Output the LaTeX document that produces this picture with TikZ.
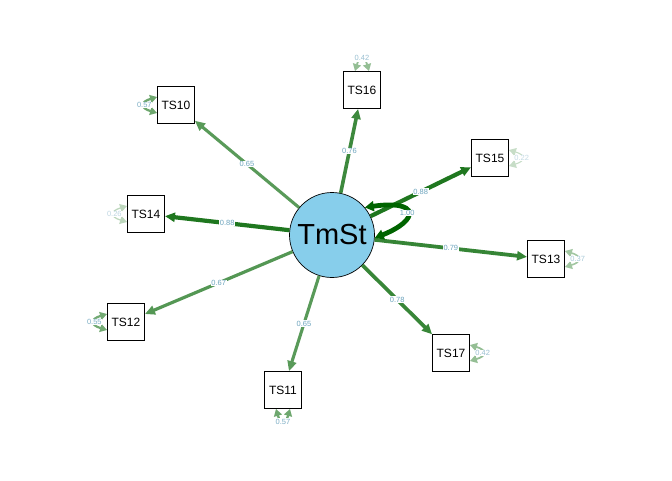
\documentclass[tikz,border=0pt]{standalone}
\usepackage{fontspec}
\setmainfont{Liberation Sans}
\usetikzlibrary{arrows.meta,calc}
\definecolor{dg}{RGB}{0,100,0}
\definecolor{sky}{RGB}{135,206,235}
\definecolor{lblc}{RGB}{110,165,190}
\begin{document}
\begin{tikzpicture}[x=1pt,y=-1pt,
  box/.style={draw=black,line width=0.9pt,minimum size=37pt,inner sep=0pt,fill=white,font=\fontsize{12}{12}\selectfont},
  lat/.style={circle,draw=black,line width=0.7pt,fill=sky,minimum size=85pt,inner sep=0pt,font=\fontsize{29}{29}\selectfont},
  ld/.style 2 args={line width=#1,draw=dg!#2!white,-{Triangle[length=10pt,width=9pt]}},
  res/.style 2 args={line width=#1,draw=dg!#2!white,{Triangle[length=7pt,width=8pt]}-{Triangle[length=7pt,width=8pt]}},
  lbl/.style={fill=white,inner sep=0.6pt,font=\fontsize{7.5}{7.5}\selectfont,text=lblc},
  rlbl/.style={lbl,text=lblc!#1!white}
]
\useasboundingbox (0,0) rectangle (672,480);
% nodes
\node[lat] (TmSt) at (332,235) {TmSt};
\node[box] (TS10) at (176,105) {TS10};
\node[box] (TS14) at (146,214) {TS14};
\node[box] (TS16) at (362,90) {TS16};
\node[box] (TS15) at (490,158) {TS15};
\node[box] (TS13) at (546,259) {TS13};
\node[box] (TS17) at (451,353) {TS17};
\node[box] (TS12) at (126,322) {TS12};
\node[box] (TS11) at (283,390) {TS11};
% loadings
\draw[ld={3.1pt}{65}] (TmSt) -- node[lbl]{0.65} (TS10);
\draw[ld={4.2pt}{88}] (TmSt) -- node[lbl]{0.88} (TS14);
\draw[ld={3.6pt}{76}] (TmSt) -- node[lbl]{0.76} (TS16);
\draw[ld={4.2pt}{88}] (TmSt) -- node[lbl]{0.88} (TS15);
\draw[ld={3.8pt}{79}] (TmSt) -- node[lbl]{0.79} (TS13);
\draw[ld={3.7pt}{78}] (TmSt) -- node[lbl]{0.78} (TS17);
\draw[ld={3.2pt}{67}] (TmSt) -- node[lbl]{0.67} (TS12);
\draw[ld={3.1pt}{65}] (TmSt) -- node[lbl]{0.65} (TS11);
% latent variance
\draw[line width=4.8pt,draw=dg,{Triangle[length=9pt,width=10pt]}-{Triangle[length=9pt,width=10pt]}]
  (TmSt.40) .. controls +(55,-8) and +(45,-18) .. (TmSt.-4) node[midway,lbl]{1.00};
% residual variances
\draw[res={2.3pt}{57}] ($(TS10.west)+(0,-8)$) .. controls +(-17,5) and +(-17,-5) .. ($(TS10.west)+(0,8)$) node[midway,rlbl=90]{0.57};
\draw[res={1.3pt}{26}] ($(TS14.west)+(0,-8)$) .. controls +(-17,5) and +(-17,-5) .. ($(TS14.west)+(0,8)$) node[midway,rlbl=45]{0.26};
\draw[res={2.2pt}{55}] ($(TS12.west)+(0,-8)$) .. controls +(-17,5) and +(-17,-5) .. ($(TS12.west)+(0,8)$) node[midway,rlbl=90]{0.55};
\draw[res={2.3pt}{57}] ($(TS11.south)+(-7,0)$) .. controls +(5,17) and +(-5,17) .. ($(TS11.south)+(7,0)$) node[midway,rlbl=90]{0.57};
\draw[res={1.8pt}{42}] ($(TS17.east)+(0,-8)$) .. controls +(17,5) and +(17,-5) .. ($(TS17.east)+(0,8)$) node[midway,rlbl=70]{0.42};
\draw[res={1.6pt}{37}] ($(TS13.east)+(0,-8)$) .. controls +(17,5) and +(17,-5) .. ($(TS13.east)+(0,8)$) node[midway,rlbl=60]{0.37};
\draw[res={1.1pt}{22}] ($(TS15.east)+(0,-8)$) .. controls +(17,5) and +(17,-5) .. ($(TS15.east)+(0,8)$) node[midway,rlbl=40]{0.22};
\draw[res={1.8pt}{42}] ($(TS16.north)+(-7,0)$) .. controls +(5,-17) and +(-5,-17) .. ($(TS16.north)+(7,0)$) node[midway,rlbl=70]{0.42};
\end{tikzpicture}
\end{document}
